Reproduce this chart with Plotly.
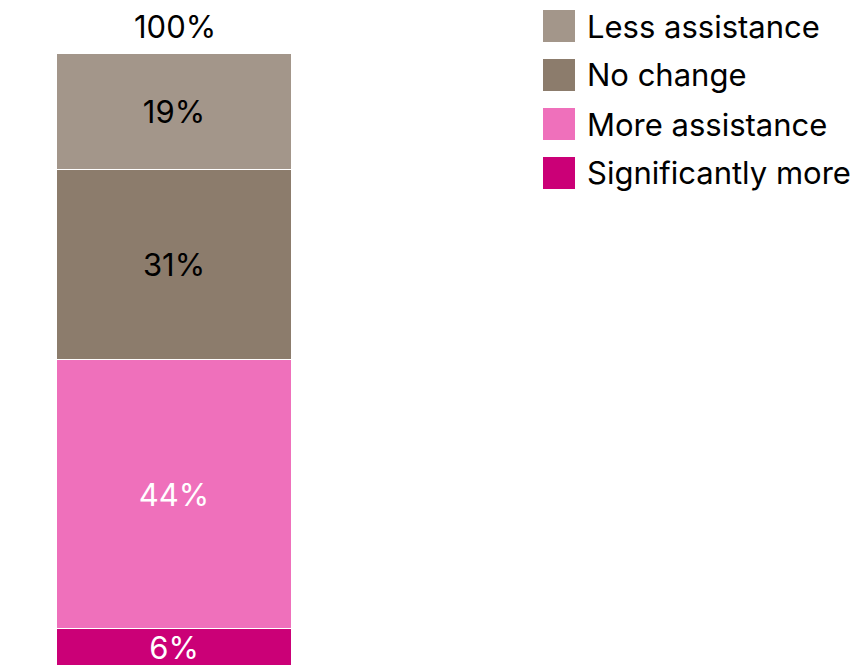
import plotly.graph_objects as go

# Share of respondents by expected change in assistance
categories = ["Significantly more", "More assistance", "No change", "Less assistance"]
values = [6, 44, 31, 19]
colors = ["#CB0077", "#EF70BB", "#8C7C6C", "#A3968A"]
label_colors = ["white", "white", "black", "black"]

FONT = "Inter, 'Noto Sans', sans-serif"
FS = 31
W, H = 859, 666
BAR_TOP = 54  # pixel row where the 100% mark sits

fig = go.Figure()
for cat, val, col, lc in zip(categories, values, colors, label_colors):
    fig.add_trace(go.Bar(
        x=[0], y=[val], name=cat, width=1,
        marker=dict(color=col, line=dict(color="white", width=1)),
        text=[f"{val}%"], textposition="inside", insidetextanchor="middle",
        constraintext="none",
        textfont=dict(family=FONT, size=FS, color=lc),
        showlegend=False, hoverinfo="skip",
    ))

total = sum(values)
fig.add_annotation(x=0, y=total, xref="x", yref="y", text=f"{total}%",
                   showarrow=False, yanchor="bottom", yshift=7,
                   font=dict(family=FONT, size=FS, color="black"))

# Custom legend: large swatches with labels, top to bottom
legend_order = list(zip(categories, colors))[::-1]
row_y = [26, 75, 124, 173]
for (cat, col), cy in zip(legend_order, row_y):
    fig.add_shape(type="rect", xref="paper", yref="paper",
                  x0=543 / W, x1=575 / W,
                  y0=1 - (cy + 16) / H, y1=1 - (cy - 16) / H,
                  fillcolor=col, line=dict(width=0))
    fig.add_annotation(xref="paper", yref="paper", x=585 / W, y=1 - cy / H,
                       text=cat, showarrow=False, xanchor="left", yanchor="middle",
                       font=dict(family=FONT, size=FS, color="black"))

fig.update_layout(
    width=W, height=H, barmode="stack",
    margin=dict(l=0, r=0, t=0, b=0),
    plot_bgcolor="white", paper_bgcolor="white",
    xaxis=dict(domain=[57 / W, 292 / W], range=[-0.5, 0.5], visible=False),
    yaxis=dict(domain=[0, 1 - BAR_TOP / H], range=[0, 100], visible=False),
    bargap=0,
)

fig.write_html("out.html")
